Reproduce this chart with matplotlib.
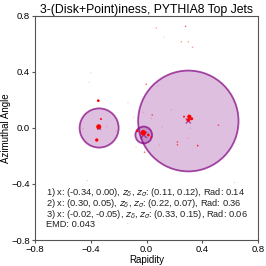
import numpy as np
import matplotlib
matplotlib.use("Agg")
import matplotlib.pyplot as plt
from matplotlib.patches import Circle

plt.rcParams['font.family'] = ['Liberation Sans', 'DejaVu Sans']
plt.rcParams['mathtext.fontset'] = 'dejavusans'

# Disk + point parameters
disk_x = [-0.34, 0.30, -0.02]
disk_y = [0.00, 0.05, -0.05]
z_delta = [0.11, 0.22, 0.33]
z_sigma = [0.12, 0.07, 0.15]
radii = [0.14, 0.36, 0.06]
emd = 0.043

# Particles (rapidity, azimuth, relative pT)
part_x = [0.07, 0.28, 0.125, 0.25, 0.30, 0.33, -0.40, -0.41, -0.346, -0.327,
          -0.343, -0.456, -0.284, -0.219, -0.357, -0.133, -0.002, 0.085, -0.023, 0.041,
          0.034, -0.09, 0.113, 0.178, -0.023, -0.066, 0.013, 0.034, -0.075, -0.014,
          0.092, 0.222, 0.222, 0.367, 0.307, 0.324, 0.269, 0.30, 0.516, 0.315,
          0.30, -0.425, 0.631, -0.135]
part_y = [0.714, 0.726, 0.648, 0.616, 0.616, 0.576, 0.393, 0.326, 0.195, 0.064,
          0.009, -0.005, 0.009, -0.021, -0.086, 0.181, 0.312, 0.30, 0.112, 0.093,
          0.068, 0.076, 0.007, 0.129, -0.034, -0.021, -0.05, -0.066, -0.136, -0.173,
          -0.124, -0.10, -0.12, -0.126, 0.081, 0.066, 0.081, 0.057, 0.02, -0.002,
          -0.071, -0.376, -0.389, -0.681]
part_pt = [0.004, 0.006, 0.002, 0.004, 0.004, 0.004, 0.002, 0.002, 0.03, 0.012,
           0.12, 0.002, 0.002, 0.002, 0.05, 0.002, 0.006, 0.002, 0.002, 0.006,
           0.002, 0.002, 0.002, 0.002, 0.15, 0.02, 0.03, 0.01, 0.002, 0.006,
           0.002, 0.006, 0.006, 0.008, 0.08, 0.04, 0.01, 0.06, 0.006, 0.002,
           0.002, 0.002, 0.002, 0.002]

fig = plt.figure(figsize=(2.66, 2.66), dpi=100)
ax = fig.add_axes([0.1316, 0.0977, 0.8384, 0.8423])

for cx, cy, r in zip(disk_x, disk_y, radii):
    ax.add_patch(Circle((cx, cy), r, facecolor='purple', alpha=0.25,
                        edgecolor='none', zorder=1))
    ax.add_patch(Circle((cx, cy), r, facecolor='none', edgecolor='purple',
                        alpha=0.7, lw=1.3, zorder=2))

ax.scatter(disk_x, disk_y, marker='x', s=[60 * z for z in z_delta],
           color='purple', alpha=0.6, lw=1.0, zorder=3)

pt = np.array(part_pt)
alphas = np.clip(pt / 0.01, 0.2, 1.0)
colors = np.zeros((len(pt), 4))
colors[:, 0] = 1.0
colors[:, 3] = alphas
ax.scatter(part_x, part_y, s=100 * pt + 0.8, c=colors, edgecolors='none', zorder=4)

ax.set_xlim(-0.8, 0.8)
ax.set_ylim(-0.8, 0.8)
ax.set_xticks([-0.8, -0.4, 0.0, 0.4, 0.8])
ax.set_yticks([-0.8, -0.4, 0.0, 0.4, 0.8])
ax.tick_params(labelsize=6.8, length=2.5, width=0.8, color='#555555', pad=1.2)
for sp in ax.spines.values():
    sp.set_color('#555555')
    sp.set_linewidth(0.8)

ax.set_xlabel('Rapidity', fontsize=7, labelpad=0.5)
ax.set_ylabel('Azimuthal Angle', fontsize=7, labelpad=0.5)
ax.set_title('3-(Disk+Point)iness, PYTHIA8 Top Jets', fontsize=8.8, pad=1.5)

lines = []
for i in range(3):
    lines.append(f"{i+1}) x: ({disk_x[i]:.2f}, {disk_y[i]:.2f}), $z_\\delta$, $z_\\sigma$: "
                 f"({z_delta[i]:.2f}, {z_sigma[i]:.2f}), Rad: {radii[i]:.2f}")
lines.append(f"EMD: {emd:.3f}")
y0 = 0.219  # axes fraction of first line
step = 0.049
for k, line in enumerate(lines):
    ax.text(0.05, y0 - k * step, line, transform=ax.transAxes, fontsize=6.7,
            va='center_baseline', ha='left', color='#222222')

fig.savefig('out.png', dpi=100)
